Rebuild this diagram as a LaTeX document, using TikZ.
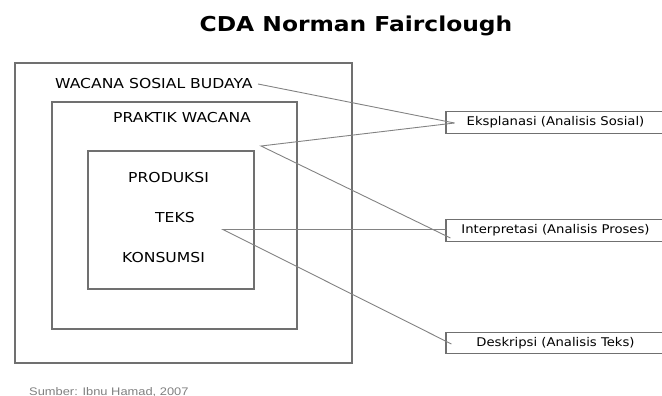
\documentclass[tikz,border=0pt]{standalone}
\usepackage{fontspec}
\setmainfont{DejaVu Sans}[FakeStretch=1.14]
\newfontfamily\tagfont{DejaVu Sans}[FakeStretch=1.1]
\newfontfamily\srcfont{Liberation Sans}[FakeStretch=1.17]
\definecolor{framegray}{RGB}{112,112,112}
\definecolor{linegray}{RGB}{130,130,130}
\usetikzlibrary{positioning}

\begin{document}
\begin{tikzpicture}[x=1pt, y=-1pt,
   frame/.style = {draw=framegray, line width=1.1pt},
   level/.style = {font=\fontsize{13.7}{16}\selectfont, inner sep=0pt,
                   anchor=base west},
     tag/.style = {draw=framegray, line width=1.1pt, fill=white,
                   minimum width=219pt, minimum height=21.5pt,
                   font=\tagfont\fontsize{12}{14}\selectfont, inner sep=0pt},
    link/.style = {draw=linegray, line width=0.9pt}
                    ]
\useasboundingbox (0,0) rectangle (662,396);

% nested frames
\draw[frame] (15,63) rectangle (352,363);
\draw[frame] (52,102) rectangle (297,329);
\draw[frame] (88,151) rectangle (254,289);

\node[font=\bfseries\fontsize{20.5}{24}\selectfont, inner sep=0pt,
      anchor=base] (title) at (356,31.5) {CDA Norman Fairclough};

\node[level] (wsb)  at (55,88.5) {WACANA SOSIAL BUDAYA};
\node[level] (pw)   at (113,122) {PRAKTIK WACANA};
\node[level] (prod) at (128,182) {PRODUKSI};
\node[level] (teks) at (155,222) {TEKS};
\node[level] (kons) at (122,262) {KONSUMSI};

% analysis labels
\node[tag] (eksp)   at (555.5,122.5) {Eksplanasi (Analisis Sosial)};
\node[tag] (interp) at (555.5,230.5) {Interpretasi (Analisis Proses)};
\node[tag] (desk)   at (555.5,343)   {Deskripsi (Analisis Teks)};

\coordinate (wsbend)   at (258,84);
\coordinate (apex)     at (261,146);
\coordinate (teksend)  at (223,229.5);
\coordinate (ekspin)   at ([xshift=9pt,yshift=-0.5pt]eksp.west);
\coordinate (interpin) at ([xshift=5pt,yshift=-7.5pt]interp.west);
\coordinate (deskin)   at ([xshift=6pt,yshift=-1pt]desk.west);

\draw[link] (wsbend) -- (ekspin);
\draw[link] (ekspin) -- (apex) -- (interpin);
\draw[link] (interp.west |- teksend) -- (teksend) -- (deskin);

\node[font=\srcfont\fontsize{11}{13}\selectfont, text=gray, inner sep=0pt,
      anchor=base west] (src) at (29,395) {Sumber: Ibnu Hamad, 2007};
\end{tikzpicture}
\end{document}
